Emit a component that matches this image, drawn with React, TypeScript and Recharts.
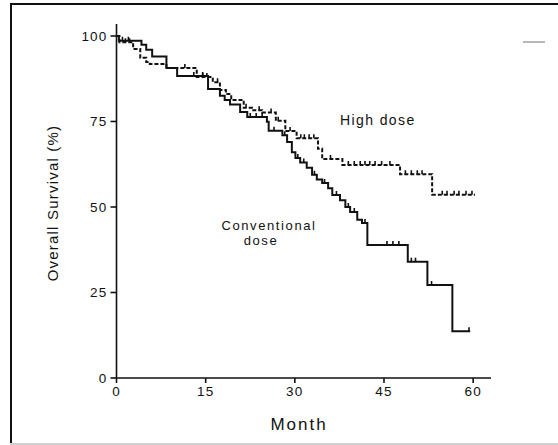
import React from "react";
import { ComposedChart, Line, Scatter, XAxis, YAxis } from "recharts";

// Kaplan-Meier step curves: [month, survival %]
const conventionalSteps: [number, number][] = [
  [0, 100], [0.4, 98.6], [4.2, 97.4], [5.0, 96], [6.0, 94], [8.4, 90.6],
  [10.2, 88.3], [15.4, 84.5], [17.4, 82.5], [18.2, 81.3], [19.1, 80],
  [20.8, 77.8], [22, 76.3], [25.3, 74.9], [25.6, 72.3], [27.9, 71],
  [28.7, 69], [29.5, 66], [30.1, 64.3], [30.9, 63], [32, 61.5], [32.9, 59.4],
  [33.7, 58], [34.6, 57], [35.6, 55.5], [36.3, 53.5], [37.6, 52], [38.5, 50],
  [39.3, 48.5], [40.5, 46.3], [41.3, 45.3], [42.2, 38.9], [49, 34],
  [52.3, 27.2], [56.5, 13.7], [59.5, 13.7],
];

const highDoseSteps: [number, number][] = [
  [0, 100], [0.5, 98.2], [2.8, 96.2], [4.0, 93.6], [5.0, 92.4], [5.6, 91.8],
  [8.4, 90.6], [13.5, 88.0], [16.2, 86.5], [17.4, 84.2], [18.4, 83],
  [19.3, 81.3], [21.4, 79], [22.8, 78.3], [24.5, 77.6], [26.8, 75.2],
  [28.4, 72.2], [30.3, 70.1], [33.9, 67], [34.6, 64], [38, 62.3],
  [47.7, 59.6], [53.1, 53.6], [60.3, 53.6],
];

// censored observations (months)
const conventionalCensor = [
  1, 2, 13, 14.5, 22.5, 23.5, 24.5, 26.5, 28.3, 30.5, 31.5, 33.3, 35, 37,
  39, 40, 41.8, 45.5, 46.5, 47.5, 49.6, 50.3, 53, 59.3,
];
const highDoseCensor = [
  1.5, 2.2, 11.5, 14.5, 15.2, 17, 21.8, 24, 26, 27.2, 29.2, 31, 31.6, 32.4,
  33.2, 36, 39, 40, 41, 41.8, 42.6, 43.5, 44.6, 46, 48.6, 49.6, 50.6, 51.4,
  54.8, 55.6, 56.8, 57.6, 58.8, 59.8,
];

const xTicks = [0, 15, 30, 45, 60];
const yTicks = [0, 25, 50, 75, 100];

const toRows = (steps: [number, number][]) => steps.map(([m, s]) => ({ m, s }));
const survivalAt = (steps: [number, number][], m: number) => {
  let s = steps[0][1];
  for (const [t, v] of steps) if (t <= m) s = v;
  return s;
};
const censorRows = (steps: [number, number][], months: number[]) =>
  months.map((m) => ({ m, s: survivalAt(steps, m) }));

const font = "'Liberation Sans', Arial, sans-serif";
const ink = "#111";

const CensorTick = (props: any) => {
  const { cx, cy } = props;
  if (cx == null || cy == null) return null;
  return <line x1={cx} y1={cy - 4} x2={cx} y2={cy} stroke={ink} strokeWidth={1.6} />;
};

export default function App() {
  return (
    <div style={{ position: "absolute", left: 0, top: 0, width: 558, height: 445, background: "#fff" }}>
      <div style={{ position: "absolute", left: 10, top: 3, width: 548, height: 2, background: "#111" }} />
      <div style={{ position: "absolute", left: 10, top: 3, width: 2, height: 442, background: "#111" }} />
      <div style={{ position: "absolute", left: 10, top: 443, width: 548, height: 2, background: "#d0d0d0" }} />
      <div style={{ position: "absolute", left: 523, top: 41, width: 22, height: 2, background: "#b8b8b8" }} />
      <ComposedChart
        width={558}
        height={445}
        margin={{ top: 24, right: 67, bottom: 0, left: 0 }}
        style={{ position: "absolute", left: 0, top: 0 }}
      >
        <XAxis
          type="number"
          dataKey="m"
          domain={[0, 63]}
          ticks={xTicks}
          height={67}
          stroke={ink}
          strokeWidth={1.6}
          tickSize={5}
          tickMargin={3}
          tick={{ fill: ink, fontSize: 13.5, fontFamily: font, letterSpacing: 1.2 }}
          allowDataOverflow
        />
        <YAxis
          type="number"
          dataKey="s"
          domain={[0, 103.5]}
          ticks={yTicks}
          width={116.5}
          stroke={ink}
          strokeWidth={1.6}
          tickSize={6}
          tickMargin={3}
          tick={{ fill: ink, fontSize: 13.5, fontFamily: font, letterSpacing: 1.2 }}
          allowDataOverflow
        />
        <Line
          data={toRows(conventionalSteps)}
          dataKey="s"
          type="stepAfter"
          stroke={ink}
          strokeWidth={2}
          dot={false}
          isAnimationActive={false}
        />
        <Line
          data={toRows(highDoseSteps)}
          dataKey="s"
          type="stepAfter"
          stroke={ink}
          strokeWidth={2}
          strokeDasharray="4 2"
          dot={false}
          isAnimationActive={false}
        />
        <Scatter
          data={censorRows(conventionalSteps, conventionalCensor)}
          dataKey="s"
          shape={<CensorTick />}
          isAnimationActive={false}
        />
        <Scatter
          data={censorRows(highDoseSteps, highDoseCensor)}
          dataKey="s"
          shape={<CensorTick />}
          isAnimationActive={false}
        />
        <text x={340} y={125} fontSize={14} fontFamily={font} fill={ink} letterSpacing={1.4}>
          High dose
        </text>
        <text x={269} y={230} fontSize={13} fontFamily={font} fill={ink} letterSpacing={1.6} textAnchor="middle">
          Conventional
        </text>
        <text x={261} y={245} fontSize={13} fontFamily={font} fill={ink} letterSpacing={1.6} textAnchor="middle">
          dose
        </text>
        <text
          x={58}
          y={203}
          fontSize={15}
          fontFamily={font}
          fill={ink}
          letterSpacing={1.2}
          textAnchor="middle"
          transform="rotate(-90 58 203)"
        >
          Overall Survival (%)
        </text>
        <text x={299} y={430} fontSize={17} fontFamily={font} fill={ink} letterSpacing={2} textAnchor="middle">
          Month
        </text>
      </ComposedChart>
    </div>
  );
}
